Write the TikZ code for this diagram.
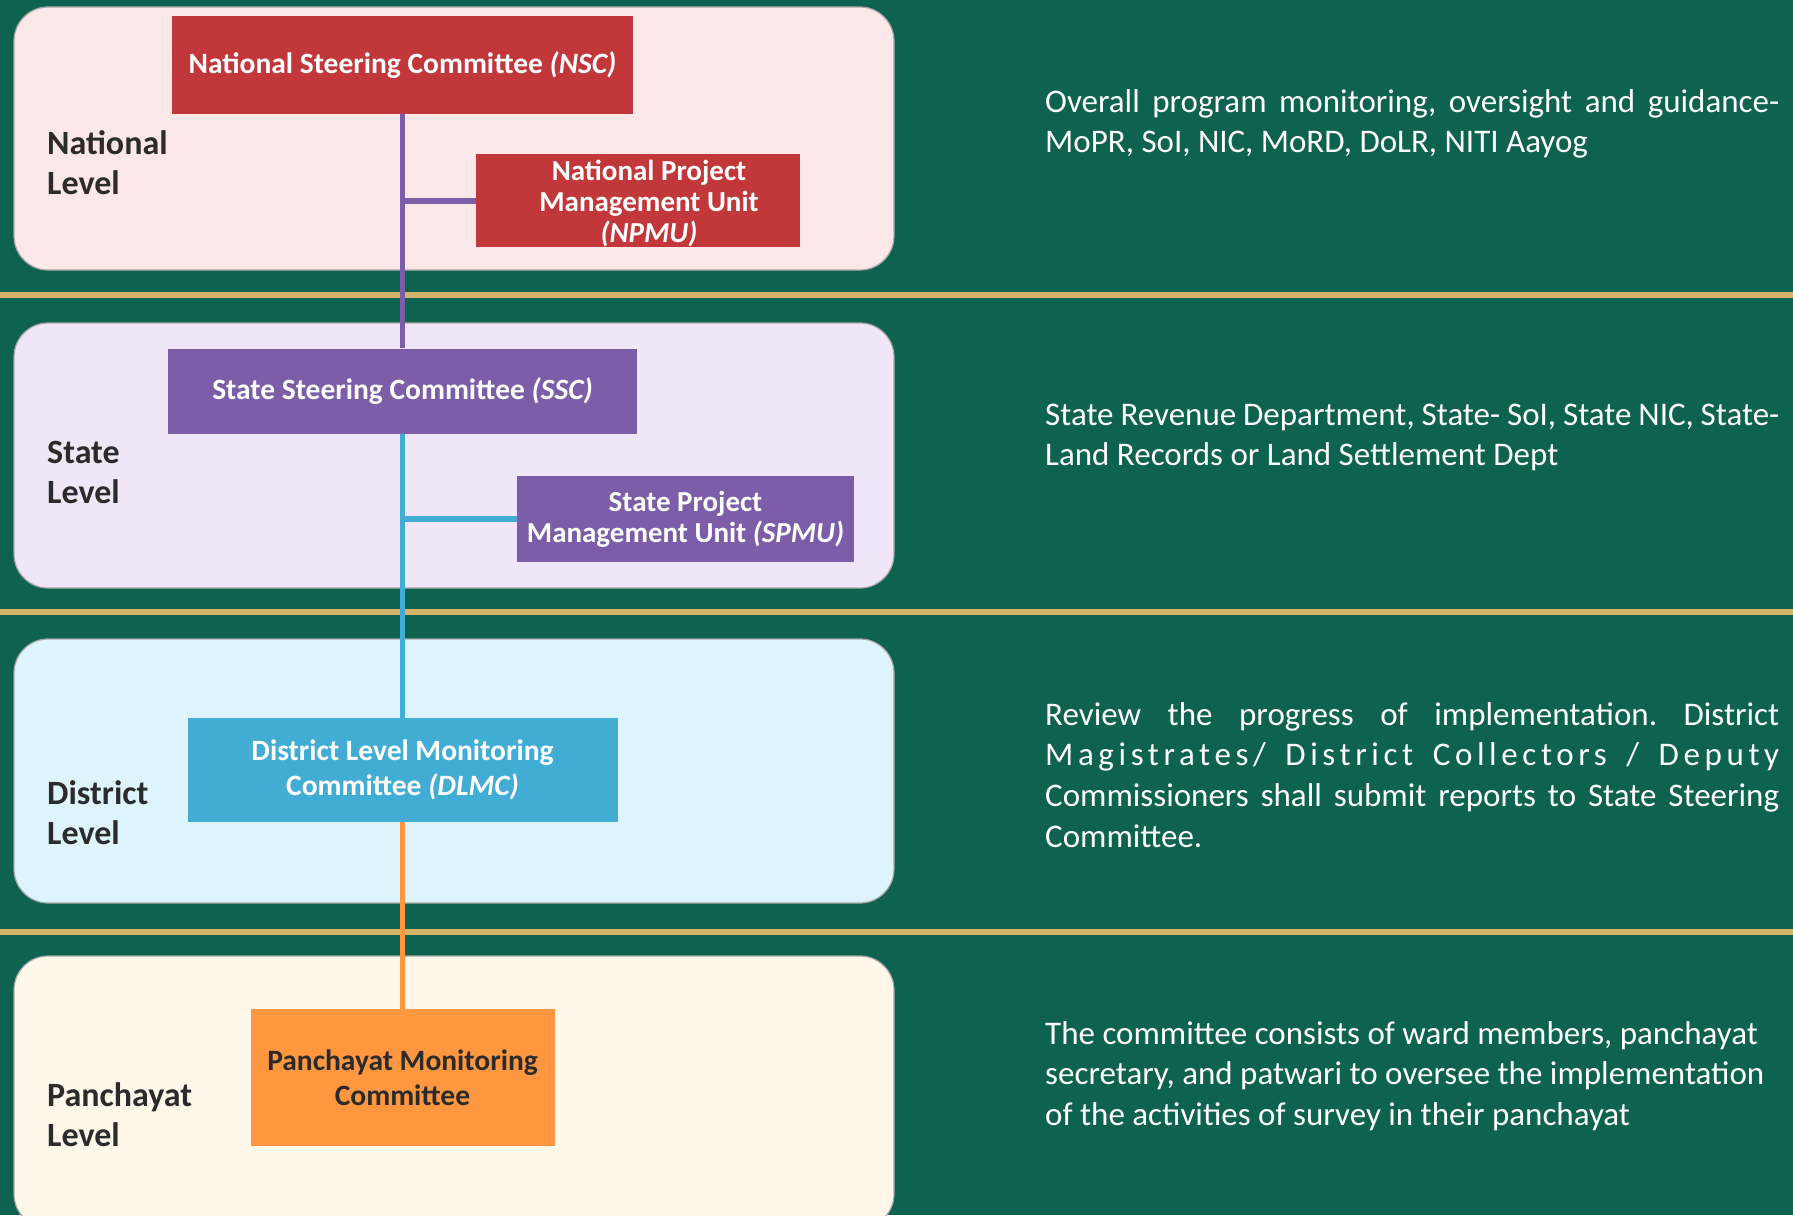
\documentclass[tikz,border=0pt]{standalone}
\usepackage{fontspec}
\setmainfont{Carlito}
\frenchspacing
\definecolor{bg}{HTML}{0D6250}
\definecolor{gold}{HTML}{D6B36A}
\definecolor{p1}{HTML}{FBE6E8}
\definecolor{p2}{HTML}{F1E6F7}
\definecolor{p3}{HTML}{DEF4FD}
\definecolor{p4}{HTML}{FFF7EA}
\definecolor{nred}{HTML}{C1373A}
\definecolor{npurple}{HTML}{7B5EA7}
\definecolor{nblue}{HTML}{42ADD4}
\definecolor{norange}{HTML}{FF9640}
\definecolor{lvltext}{HTML}{2B2B2B}
\begin{document}
\begin{tikzpicture}[x=1pt,y=-1pt,
  panel/.style={draw=black!35, line width=1.2pt, rounded corners=34pt},
  unit/.style={inner sep=0pt, align=center, text=white, font=\bfseries\fontsize{29.5}{31}\selectfont},
  lvl/.style={inner sep=0pt, anchor=base west, text=lvltext, font=\bfseries\fontsize{34}{40}\selectfont},
  desc/.style={inner sep=0pt, anchor=base west, text=white, font=\fontsize{33}{40.7}\selectfont},
  link/.style={line width=5pt},
  sepline/.style={draw=gold, line width=6pt}]
\fill[bg] (0,0) rectangle (1793,1215);
\clip (0,0) rectangle (1793,1215);
% separators
\draw[sepline] (0,295) -- (1793,295);
\draw[sepline] (0,612) -- (1793,612);
\draw[sepline] (0,932) -- (1793,932);
% panels
\draw[panel, fill=p1] (14,7) rectangle (894,270);
\draw[panel, fill=p2] (14,323) rectangle (894,588);
\draw[panel, fill=p3] (14,639) rectangle (894,903);
\draw[panel, fill=p4] (14,956) rectangle (894,1228);
% level labels
\node[lvl] (lnat) at (47,154) {\parbox[t]{240pt}{National\\Level}};
\node[lvl] (lsta) at (47,463) {\parbox[t]{240pt}{State\\Level}};
\node[lvl] (ldis) at (47,804) {\parbox[t]{240pt}{District\\Level}};
\node[lvl] (lpan) at (47,1106) {\parbox[t]{240pt}{Panchayat\\Level}};
% units
\node[unit, fill=nred, minimum width=461pt, minimum height=98pt] (nsc) at (402.5,65) {National Steering Committee \textit{(NSC)}};
\node[unit, fill=nred, minimum width=324pt, minimum height=93pt, font=\bfseries\fontsize{29}{31}\selectfont] (npmu) at (638,200.5) {\rule{0pt}{26pt}\hspace*{22pt}National Project\\\hspace*{22pt}Management Unit\\\hspace*{22pt}\textit{(NPMU)}};
\node[unit, fill=npurple, minimum width=469pt, minimum height=85pt] (ssc) at (402.5,391) {State Steering Committee \textit{(SSC)}};
\node[unit, fill=npurple, minimum width=337pt, minimum height=86pt, font=\bfseries\fontsize{29}{31}\selectfont] (spmu) at (685.5,519) {State Project\\Management Unit \textit{(SPMU)}};
\node[unit, fill=nblue, minimum width=430pt, minimum height=104pt, font=\bfseries\fontsize{29.5}{35.5}\selectfont] (dlmc) at (402.5,770) {District Level Monitoring\\Committee \textit{(DLMC)}};
\node[unit, fill=norange, text=lvltext, minimum width=304pt, minimum height=137pt, font=\bfseries\fontsize{29.5}{34.5}\selectfont] (pmc) at (402.5,1077.5) {Panchayat Monitoring\\Committee};
% connectors
\draw[link, draw=npurple] (nsc.south) -- (ssc.north);
\draw[link, draw=npurple, line width=6pt] (nsc.south |- npmu.west) -- (npmu.west);
\draw[link, draw=nblue] (ssc.south) -- (dlmc.north);
\draw[link, draw=nblue, line width=6pt] (ssc.south |- spmu.west) -- (spmu.west);
\draw[link, draw=norange] (dlmc.south) -- (pmc.north);
% descriptions
\node[desc] (d1) at (1045,112) {\parbox[t]{790pt}{\makebox[734pt][s]{Overall program monitoring, oversight and guidance-}\\MoPR, SoI, NIC, MoRD, DoLR, NITI Aayog}};
\node[desc] (d2) at (1045,425) {\parbox[t]{790pt}{\makebox[734pt][s]{State Revenue Department, State- SoI, State NIC, State-}\\Land Records or Land Settlement Dept}};
\node[desc] (d3) at (1045,725) {\parbox[t]{790pt}{\makebox[734pt][s]{Review the progress of implementation. District}\\\makebox[734pt][s]{\addfontfeature{LetterSpace=14}Magistrates/ District Collectors / Deputy}\\\makebox[734pt][s]{Commissioners shall submit reports to State Steering}\\Committee.}};
\node[desc] (d4) at (1045,1044) {\parbox[t]{790pt}{The committee consists of ward members, panchayat\\secretary, and patwari to oversee the implementation\\of the activities of survey in their panchayat}};
\end{tikzpicture}
\end{document}
